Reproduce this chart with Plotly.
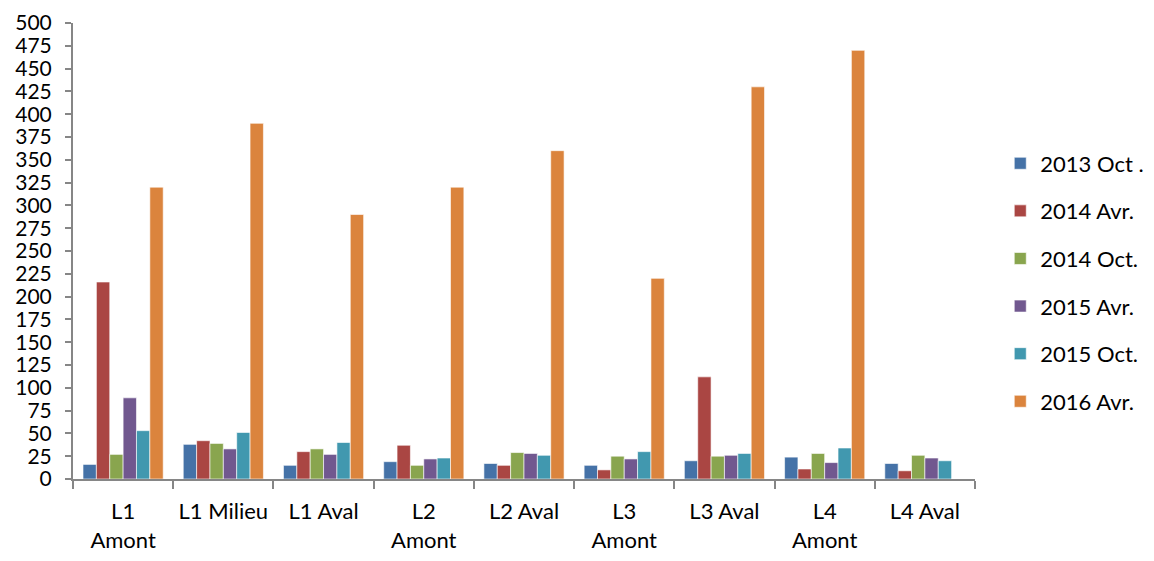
import plotly.graph_objects as go

categories = ["L1<br>Amont", "L1 Milieu", "L1 Aval", "L2<br>Amont", "L2 Aval",
              "L3<br>Amont", "L3 Aval", "L4<br>Amont", "L4 Aval"]
series_names = ["2013 Oct .", "2014 Avr.", "2014 Oct.", "2015 Avr.", "2015 Oct.", "2016 Avr."]
s2013_oct = [16, 38, 15, 19, 17, 15, 20, 24, 17]
s2014_avr = [216, 42, 30, 37, 15, 10, 112, 11, 9]
s2014_oct = [27, 39, 33, 15, 29, 25, 25, 28, 26]
s2015_avr = [89, 33, 27, 22, 28, 22, 26, 18, 23]
s2015_oct = [53, 51, 40, 23, 26, 30, 28, 34, 20]
s2016_avr = [320, 390, 290, 320, 360, 220, 430, 470, 0]
colors = ["#4572A7", "#AA4643", "#89A54E", "#71588F", "#4198AF", "#DB843D"]
y_ticks = list(range(0, 501, 25))

series = [s2013_oct, s2014_avr, s2014_oct, s2015_avr, s2015_oct, s2016_avr]

fig = go.Figure()
for i, (name, vals) in enumerate(zip(series_names, series)):
    fig.add_trace(go.Bar(
        x=categories, y=vals, name=name, legendgroup=name,
        marker=dict(color=colors[i], line=dict(color="rgba(255,255,255,0.6)", width=1)),
    ))

xfont = dict(family="Lato, Open Sans, sans-serif", size=22, color="#000000")
yfont = dict(family="Lato, Open Sans, sans-serif", size=21, color="#000000")
fig.update_layout(
    width=1154, height=561,
    barmode="group", bargap=0.2, bargroupgap=0,
    paper_bgcolor="white", plot_bgcolor="white",
    margin=dict(l=65, r=187, t=15, b=90, autoexpand=False),
    font=xfont,
    showlegend=True,
    legend=dict(x=1.028, y=0.431, xanchor="left", yanchor="middle",
                traceorder="grouped", tracegroupgap=16,
                font=dict(family="Lato, Open Sans, sans-serif", size=22, color="#000000"),
                itemwidth=30),
    xaxis=dict(showline=True, linecolor="#868686", linewidth=2, ticks="outside",
               tickson="boundaries", ticklen=8, tickcolor="#868686", tickwidth=2,
               showgrid=False, tickfont=xfont, automargin=False, tickangle=0,
               ticklabelstandoff=12),
    yaxis=dict(range=[0, 500], tickvals=y_ticks, showline=True, linecolor="#868686",
               linewidth=2, ticks="outside", ticklen=6, tickcolor="#868686", tickwidth=2,
               showgrid=False, zeroline=False, tickfont=yfont, ticklabelstandoff=9,
               automargin=False, ticklabeloverflow="allow"),
)
fig.write_html("out.html")
